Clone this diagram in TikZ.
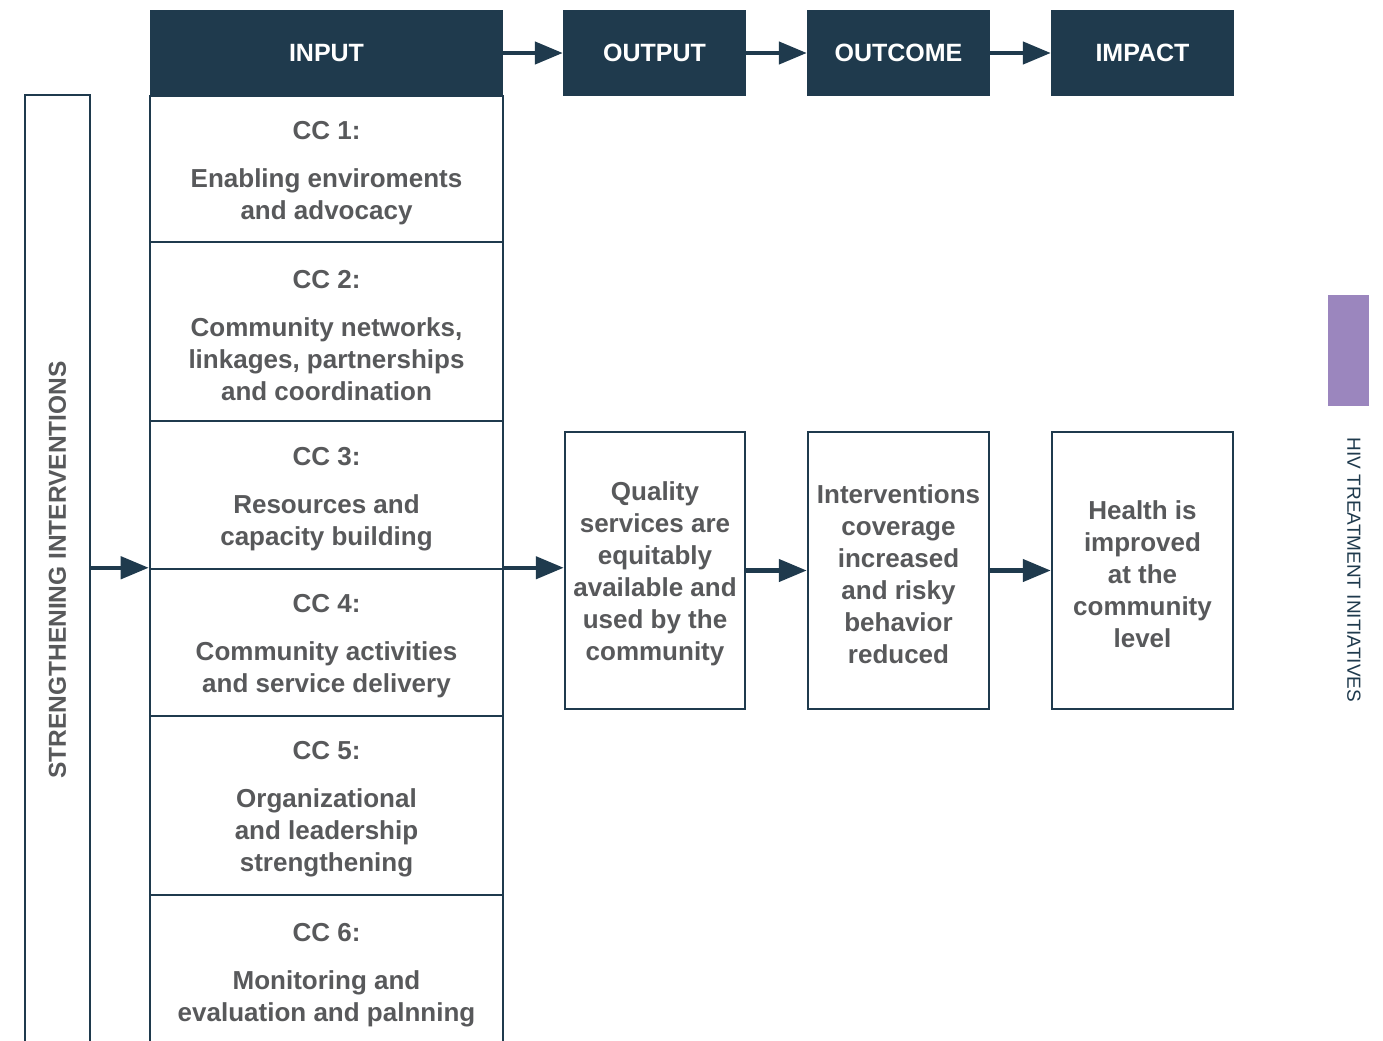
\documentclass[tikz,border=0pt]{standalone}
\usepackage{fontspec}
\setmainfont{Liberation Sans}
\usetikzlibrary{arrows.meta}
\definecolor{navy}{HTML}{1F3A4D}
\definecolor{txtgray}{HTML}{58595B}
\definecolor{tabpurple}{HTML}{9B86BE}
\newcommand{\topstrut}{\rule{0pt}{25.6bp}}
\begin{document}
\begin{tikzpicture}[x=1bp,y=-1bp,
  head/.style={fill=navy, text=white, font=\bfseries\fontsize{25bp}{30bp}\selectfont, minimum height=86bp, inner sep=0},
  ccbox/.style={draw=navy, line width=2.5bp, minimum width=353bp, text=txtgray, align=center, font=\bfseries\fontsize{26bp}{32bp}\selectfont, inner sep=0},
  midbox/.style={draw=navy, line width=2.5bp, minimum height=277bp, text=txtgray, align=center, font=\bfseries\fontsize{26bp}{32bp}\selectfont, inner sep=0},
  flow/.style={draw=navy, line width=4.5bp, -{Triangle[length=28bp,width=22bp]}}]
\clip (0,0) rectangle (1383,1040);
\fill[white] (0,0) rectangle (1383,1040);
% headers
\node[head, minimum width=353bp] (hin) at (326.5,53) {INPUT};
\node[head, minimum width=183bp] (hout) at (654.5,53) {OUTPUT};
\node[head, minimum width=183bp] (hoc) at (898.5,53) {OUTCOME};
\node[head, minimum width=183bp] (him) at (1142.5,53) {IMPACT};
% input column
\node[ccbox, minimum height=146bp] (cc1) at (326.5,169) {\topstrut CC 1:\\[16bp]Enabling enviroments\\and advocacy};
\node[ccbox, minimum height=179bp] (cc2) at (326.5,331.5) {\topstrut CC 2:\\[16bp]Community networks,\\linkages, partnerships\\and coordination};
\node[ccbox, minimum height=148bp] (cc3) at (326.5,495) {\topstrut CC 3:\\[16bp]Resources and\\capacity building};
\node[ccbox, minimum height=147bp] (cc4) at (326.5,642.5) {\topstrut CC 4:\\[16bp]Community activities\\and service delivery};
\node[ccbox, minimum height=179bp] (cc5) at (326.5,805.5) {\topstrut CC 5:\\[16bp]Organizational\\and leadership\\strengthening};
\node[ccbox, minimum height=152bp] (cc6) at (326.5,971) {\topstrut CC 6:\\[16bp]Monitoring and\\evaluation and palnning};
% left strip
\node[draw=navy, line width=2.5bp, rotate=90, minimum width=950bp, minimum height=65bp, inner sep=0, text=txtgray, font=\bfseries\fontsize{24.5bp}{30bp}\selectfont] (strip) at (57.5,570) {STRENGTHENING INTERVENTIONS};
% middle boxes
\node[midbox, minimum width=180bp] (outbox) at (655,570.5) {\topstrut Quality\\services are\\equitably\\available and\\used by the\\community};
\node[midbox, minimum width=181bp] (ocbox) at (898.5,570.5) {\topstrut Interventions\\coverage\\increased\\and risky\\behavior\\reduced};
\node[midbox, minimum width=181bp] (imbox) at (1142.5,570.5) {\topstrut Health is\\improved\\at the\\community\\level};
% side tab
\node[fill=tabpurple, minimum width=41bp, minimum height=111bp, inner sep=0] (tab) at (1348.5,350.5) {};
\node[rotate=-90, text=navy, font=\fontsize{19bp}{22bp}\selectfont, inner sep=0] (series) at (1354,570) {HIV TREATMENT INITIATIVES};
% arrows
\draw[flow] (hin.east) -- (hout.west);
\draw[flow] (hout.east) -- (hoc.west);
\draw[flow] (hoc.east) -- (him.west);
\draw[flow] (strip.south |- cc4.north west) -- (cc4.north west);
\draw[flow] (cc4.north east) -- (cc4.north east -| outbox.west);
\draw[flow] (outbox.east) -- (ocbox.west);
\draw[flow] (ocbox.east) -- (imbox.west);
\end{tikzpicture}
\end{document}
